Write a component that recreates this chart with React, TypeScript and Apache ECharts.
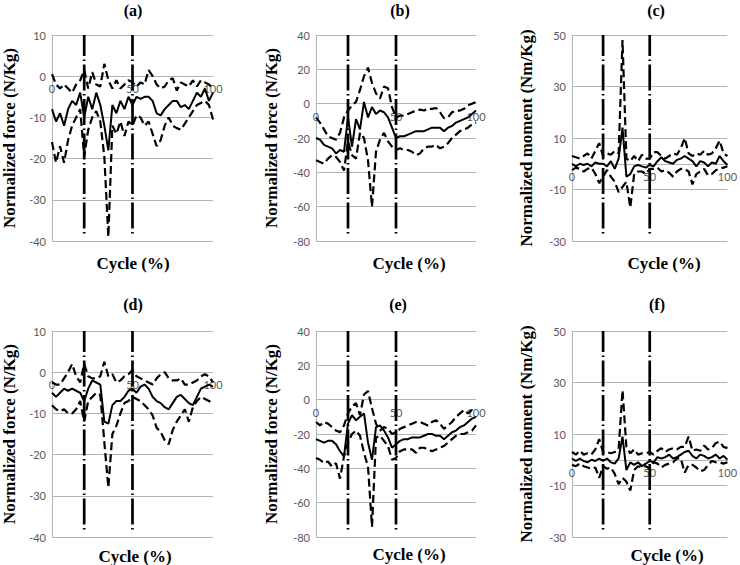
import React, { useEffect, useRef } from "react";
import * as echarts from "echarts";

// Gait cycle positions (%)
const CYCLE = [0, 2.5, 5, 7.5, 10, 12.5, 15, 17.5, 20, 22.5, 25, 27.5, 30, 32.5, 35, 37.5, 40, 42.5, 45, 47.5, 50, 52.5, 55, 57.5, 60, 62.5, 65, 67.5, 70, 72.5, 75, 77.5, 80, 82.5, 85, 87.5, 90, 92.5, 95, 97.5, 100];
const X_TICKS = [0, 50, 100];
const PHASE_MARKS = [20, 50];

// (a)
const A_MEAN = [-8, -11, -9, -12, -8, -6, -7, -4, -10, -5, -8, -4, -7, -12, -18, -7, -9, -6, -8, -5, -7, -5, -5.5, -5, -5, -6, -9, -9.5, -8, -7, -6, -6, -7.5, -7, -8, -6, -4, -5, -3, -6, -4];
const A_UPPER = [0.5, -2, -3, -2, -3, -4, -2, -1, 1.5, -3, 1, -2, -2.5, 3, -1, -3, -1, -3, -2, -1, -1.5, -2.5, -1.5, -2, 1.5, 0, -2, -3, -2.5, -1, -0.5, -3.5, -1.5, -2, -2.5, -1, -2.5, -1, -1.5, -2, -3];
const A_LOWER = [-16, -21, -17, -21, -15.5, -12, -10, -8, -19.5, -13, -10, -8.5, -11, -19.5, -39, -12, -14, -11, -14.5, -11, -12, -9.5, -10, -12, -11, -14, -17, -15.5, -12, -10, -12, -12.6, -13, -11.5, -10, -8.5, -7, -6.5, -6, -7, -10.5];

// (b)
const B_MEAN = [-20, -21, -24, -25, -26, -29, -27, -28, -8, -25, -9, -15, 1, -8, -2, -6, -4, -5, -8, -14, -20, -19, -19, -18, -17, -16, -16, -16, -15, -14, -14, -14, -16, -14, -13, -11, -10, -9, -8, -6, -4];
const B_UPPER = [-8, -11, -15, -19, -20, -21, -17, -8, -4, -1, 1, 8, 16, 21, 12, 6, 3, 10, 9, -2, -8, -7, -7, -6, -5, -4, -3.5, -4, -3, -3, -2.5, -5, -8.5, -8, -5, -4, -4, -3, -1, 0, 1];
const B_LOWER = [-33, -34, -35, -32, -30, -31, -34, -39, -22, -30, -32, -17, -20, -33, -60, -28, -21, -17, -22, -25, -27, -26, -27, -27, -28, -30, -29, -26, -25, -25, -24, -26, -25, -23, -20, -18, -16, -15, -14, -12, -11];

// (c)
const C_MEAN = [0, -1, 0, -0.5, 0, -1, 0.5, 0, 0, -1, 1, -2, 2, 14, -5, -4, -1, -0.5, -1, -1.5, -0.5, -1, 1, 2.5, 1, 0.5, 0, 1.5, 2, 3, 2, 1, -1, 1, 0.5, -1, 0.5, 0, 3, 1, -0.5];
const C_UPPER = [3, 2.5, 2, 3, 4, 2, 5, 8, 3, 4, 3.5, 5, 4, 48, 2, 1, 3, 1, 3.5, 2, 2, 4.5, 4.5, 3, 2, 3, 4, 3.5, 6, 10, 4, 3, 4, 3.5, 5, 3.5, 4, 6, 9, 4, 3];
const C_LOWER = [-2.5, -1.5, -2, -3, -2, -1.5, -4, -7.5, -5, -2.5, -5, -7, -11, -9, -7, -17, -4, -3, -3, -4, -2, -2, -1.5, -3, -2.5, -3.5, -5, -3, -2, -2, -3, -8, -4, -3, -2, -4.5, -4, -2.5, -2, -1.5, -1];

// (d)
const D_MEAN = [-5, -6, -5, -4, -4.5, -4, -4.5, -5, -7, -4, -2, -2.5, -3, -12, -12.5, -8, -7, -7, -6, -4.5, -4, -5, -3.5, -3, -4, -6, -7, -7.5, -8.5, -9, -7.5, -6, -5.5, -6.5, -7.5, -8, -6, -4, -3.5, -3, -3.5];
const D_UPPER = [-2.5, -3, -3, -1.5, 0, 2, -1, -2.5, 2, -1, -1.5, -1.5, -1, 2.5, -1, -0.5, -2.5, -2, -1, -0.5, 0.5, -1, -1.5, -2, -2.5, -3, -1.5, -0.5, 0, -1.5, -2, -2, -1.5, -3, -3, -2.5, -2, -1, -0.5, -1, -2.5];
const D_LOWER = [-8, -9, -9.5, -9, -10, -10, -9, -7, -12, -7, -6, -5, -5.5, -17, -28, -15, -13, -10, -7.5, -7, -6, -6.5, -7, -8, -9, -10.5, -13.5, -14.5, -16.5, -17.5, -14, -12, -10.5, -9, -12, -8.5, -7, -6, -6.5, -7, -7.5];

// (e)
const E_MEAN = [-23, -24, -25, -24, -24, -26, -30, -33, -14, -9, -12, -10, -8, -25, -35, -16, -15, -18, -22, -28, -26, -24, -23, -23, -22, -22, -22, -21, -20, -20, -21, -21, -23, -21, -19, -18, -16, -15, -13, -11, -10];
const E_UPPER = [-13, -15, -13, -14, -16, -18, -19, -15, -8, -4, -2, -9, 3, 5, -5, -14, -18, -16, -17, -20, -19, -17, -16, -15, -14, -13, -13, -14, -15, -13, -12, -14, -17, -15, -13, -10, -8, -6, -8, -6, -7];
const E_LOWER = [-34, -35, -37, -36, -39, -37, -46, -33, -25, -20, -18, -21, -31, -39, -74, -22, -21, -24, -27, -35, -34, -30, -29, -29, -29, -31, -28, -28, -29, -30, -29, -28, -27, -25, -23, -21, -20, -20, -19, -18, -15];

// (f)
const F_MEAN = [0.5, -0.5, 0.5, -0.5, -1, 0, -0.5, 0.5, -0.5, 0.5, -1, -1.5, 0.5, 9, -4, -1, -2, -1, -2.5, -1.5, -0.5, -1, 1, 0.5, 1, 2, 0.5, 1, 2, 3, 3.5, 1.5, 0.5, 2, 1.5, 0.5, 1, 2, 0.5, 1.5, 0];
const F_UPPER = [3, 2, 3.5, 2, 2.5, 2, 4, 8, 3, 3, 2.5, 3, 4, 27, 5, 2.5, 4, 2, 2.5, 2.5, 3, 2, 3.5, 4.5, 3, 4, 4.5, 4, 5, 5, 9, 3.5, 4, 3.5, 5.5, 4, 4.5, 6.5, 7, 5, 4.5];
const F_LOWER = [-2, -2.5, -1.5, -2.5, -3, -3.5, -3, -7, -2.5, -3.5, -3, -5.5, -9.5, -7, -8.5, -12, -4, -2.5, -3, -2.5, -3.5, -1, -1.5, -3, -2, -1.5, -1, 0.5, 0.5, -5, -2, -2, -3, -4.5, -4, -2, -0.5, -1, -1, -1.5, -1];

const FORCE_NAME = "Normalized force (N/Kg)";
const MOMENT_NAME = "Normalized moment (Nm/Kg)";
const X_NAME = "Cycle (%)";

const PANELS = [
  { label: "(a)", left: 52, top: 35, width: 161, min: -40, max: 10, step: 10, name: FORCE_NAME, gap: 34, mean: A_MEAN, up: A_UPPER, lo: A_LOWER, tx: 133, ty: 10, cx: 133, cy: 263 },
  { label: "(b)", left: 316, top: 35, width: 160, min: -80, max: 40, step: 20, name: FORCE_NAME, gap: 36, mean: B_MEAN, up: B_UPPER, lo: B_LOWER, tx: 400, ty: 10, cx: 409, cy: 263 },
  { label: "(c)", left: 572, top: 35, width: 160, min: -30, max: 50, step: 20, name: MOMENT_NAME, gap: 37, mean: C_MEAN, up: C_UPPER, lo: C_LOWER, tx: 656, ty: 10, cx: 664, cy: 263 },
  { label: "(d)", left: 52, top: 331, width: 161, min: -40, max: 10, step: 10, name: FORCE_NAME, gap: 34, mean: D_MEAN, up: D_UPPER, lo: D_LOWER, tx: 133, ty: 304, cx: 135, cy: 556 },
  { label: "(e)", left: 316, top: 331, width: 160, min: -80, max: 40, step: 20, name: FORCE_NAME, gap: 36, mean: E_MEAN, up: E_UPPER, lo: E_LOWER, tx: 398, ty: 304, cx: 409, cy: 554 },
  { label: "(f)", left: 572, top: 331, width: 160, min: -30, max: 50, step: 20, name: MOMENT_NAME, gap: 37, mean: F_MEAN, up: F_UPPER, lo: F_LOWER, tx: 657, ty: 304, cx: 667, cy: 555 },
];

const GRID_H = 206;
const GRAY = "#b4b4b4";
const LABEL_COLOR = "#595959";
const SERIF = "'Liberation Serif', 'Times New Roman', serif";
const SANS = "Lato, 'Liberation Sans', sans-serif";

function pairs(ys: number[]) {
  return CYCLE.map((x, i) => [x, ys[i]]);
}

export default function App() {
  const ref = useRef<HTMLDivElement>(null);
  useEffect(() => {
    if (!ref.current) return;
    const chart = echarts.init(ref.current, undefined, { renderer: "svg" });
    const grid: any[] = [];
    const xAxis: any[] = [];
    const yAxis: any[] = [];
    const series: any[] = [];
    const graphic: any[] = [];
    PANELS.forEach((p, k) => {
      grid.push({ left: p.left, top: p.top, width: p.width, height: GRID_H, containLabel: false });
      // x axis sits on the y = 0 line (distance of zero above the grid bottom)
      const zeroOffset = (GRID_H * (0 - p.min)) / (p.max - p.min);
      xAxis.push({
        type: "value", gridIndex: k, min: 0, max: 100, interval: 50,
        position: "bottom", offset: -zeroOffset,
        axisLine: { show: true, onZero: false, lineStyle: { color: GRAY, width: 1 } },
        axisTick: { show: false },
        splitLine: { show: false },
        axisLabel: {
          color: LABEL_COLOR, fontSize: 11, fontFamily: SANS, margin: 7,
          showMinLabel: true, showMaxLabel: true,
          formatter: (v: number) => (X_TICKS.includes(v) ? String(v) : ""),
        },
      });
      yAxis.push({
        type: "value", gridIndex: k, min: p.min, max: p.max, interval: p.step,
        name: p.name, nameLocation: "middle", nameGap: p.gap, nameRotate: 90,
        nameTextStyle: { fontFamily: SERIF, fontWeight: "bold", fontSize: 17, color: "#000" },
        axisLine: { show: true, onZero: false, lineStyle: { color: GRAY, width: 1 } },
        axisTick: { show: false },
        splitLine: { show: true, lineStyle: { color: GRAY, width: 1 } },
        axisLabel: { color: LABEL_COLOR, fontSize: 11, fontFamily: SANS, margin: 6 },
      });
      const common = { type: "line", xAxisIndex: k, yAxisIndex: k, showSymbol: false, symbol: "none", silent: true };
      series.push({ ...common, name: p.label + " +SD", data: pairs(p.up), lineStyle: { color: "#000", width: 2.2, type: [8, 4] } });
      series.push({ ...common, name: p.label + " -SD", data: pairs(p.lo), lineStyle: { color: "#000", width: 2.2, type: [8, 4] } });
      series.push({ ...common, name: p.label + " mean", data: pairs(p.mean), lineStyle: { color: "#000", width: 2 } });
      const bottom = p.min + ((p.max - p.min) * (GRID_H - 198.5)) / GRID_H;
      PHASE_MARKS.forEach((m) => {
        series.push({
          ...common, name: p.label + " phase " + m, data: [[m, p.max], [m, bottom]],
          lineStyle: { color: "#000", width: 2.7, type: [26, 3.5, 1.5, 3.5], dashOffset: 5, cap: "butt" },
        });
      });
      graphic.push({
        type: "text", x: p.tx, y: p.ty,
        style: { text: p.label, fontFamily: SERIF, fontWeight: "bold", fontSize: 16, fill: "#000", align: "center", verticalAlign: "middle" },
      });
      graphic.push({
        type: "text", x: p.cx, y: p.cy,
        style: { text: X_NAME, fontFamily: SERIF, fontWeight: "bold", fontSize: 17, fill: "#000", align: "center", verticalAlign: "middle" },
      });
    });
    chart.setOption({
      animation: false,
      backgroundColor: "#fff",
      grid, xAxis, yAxis, series, graphic,
    });
    return () => chart.dispose();
  }, []);
  return <div ref={ref} style={{ position: "fixed", left: 0, top: 0, width: 740, height: 565 }} />;
}
